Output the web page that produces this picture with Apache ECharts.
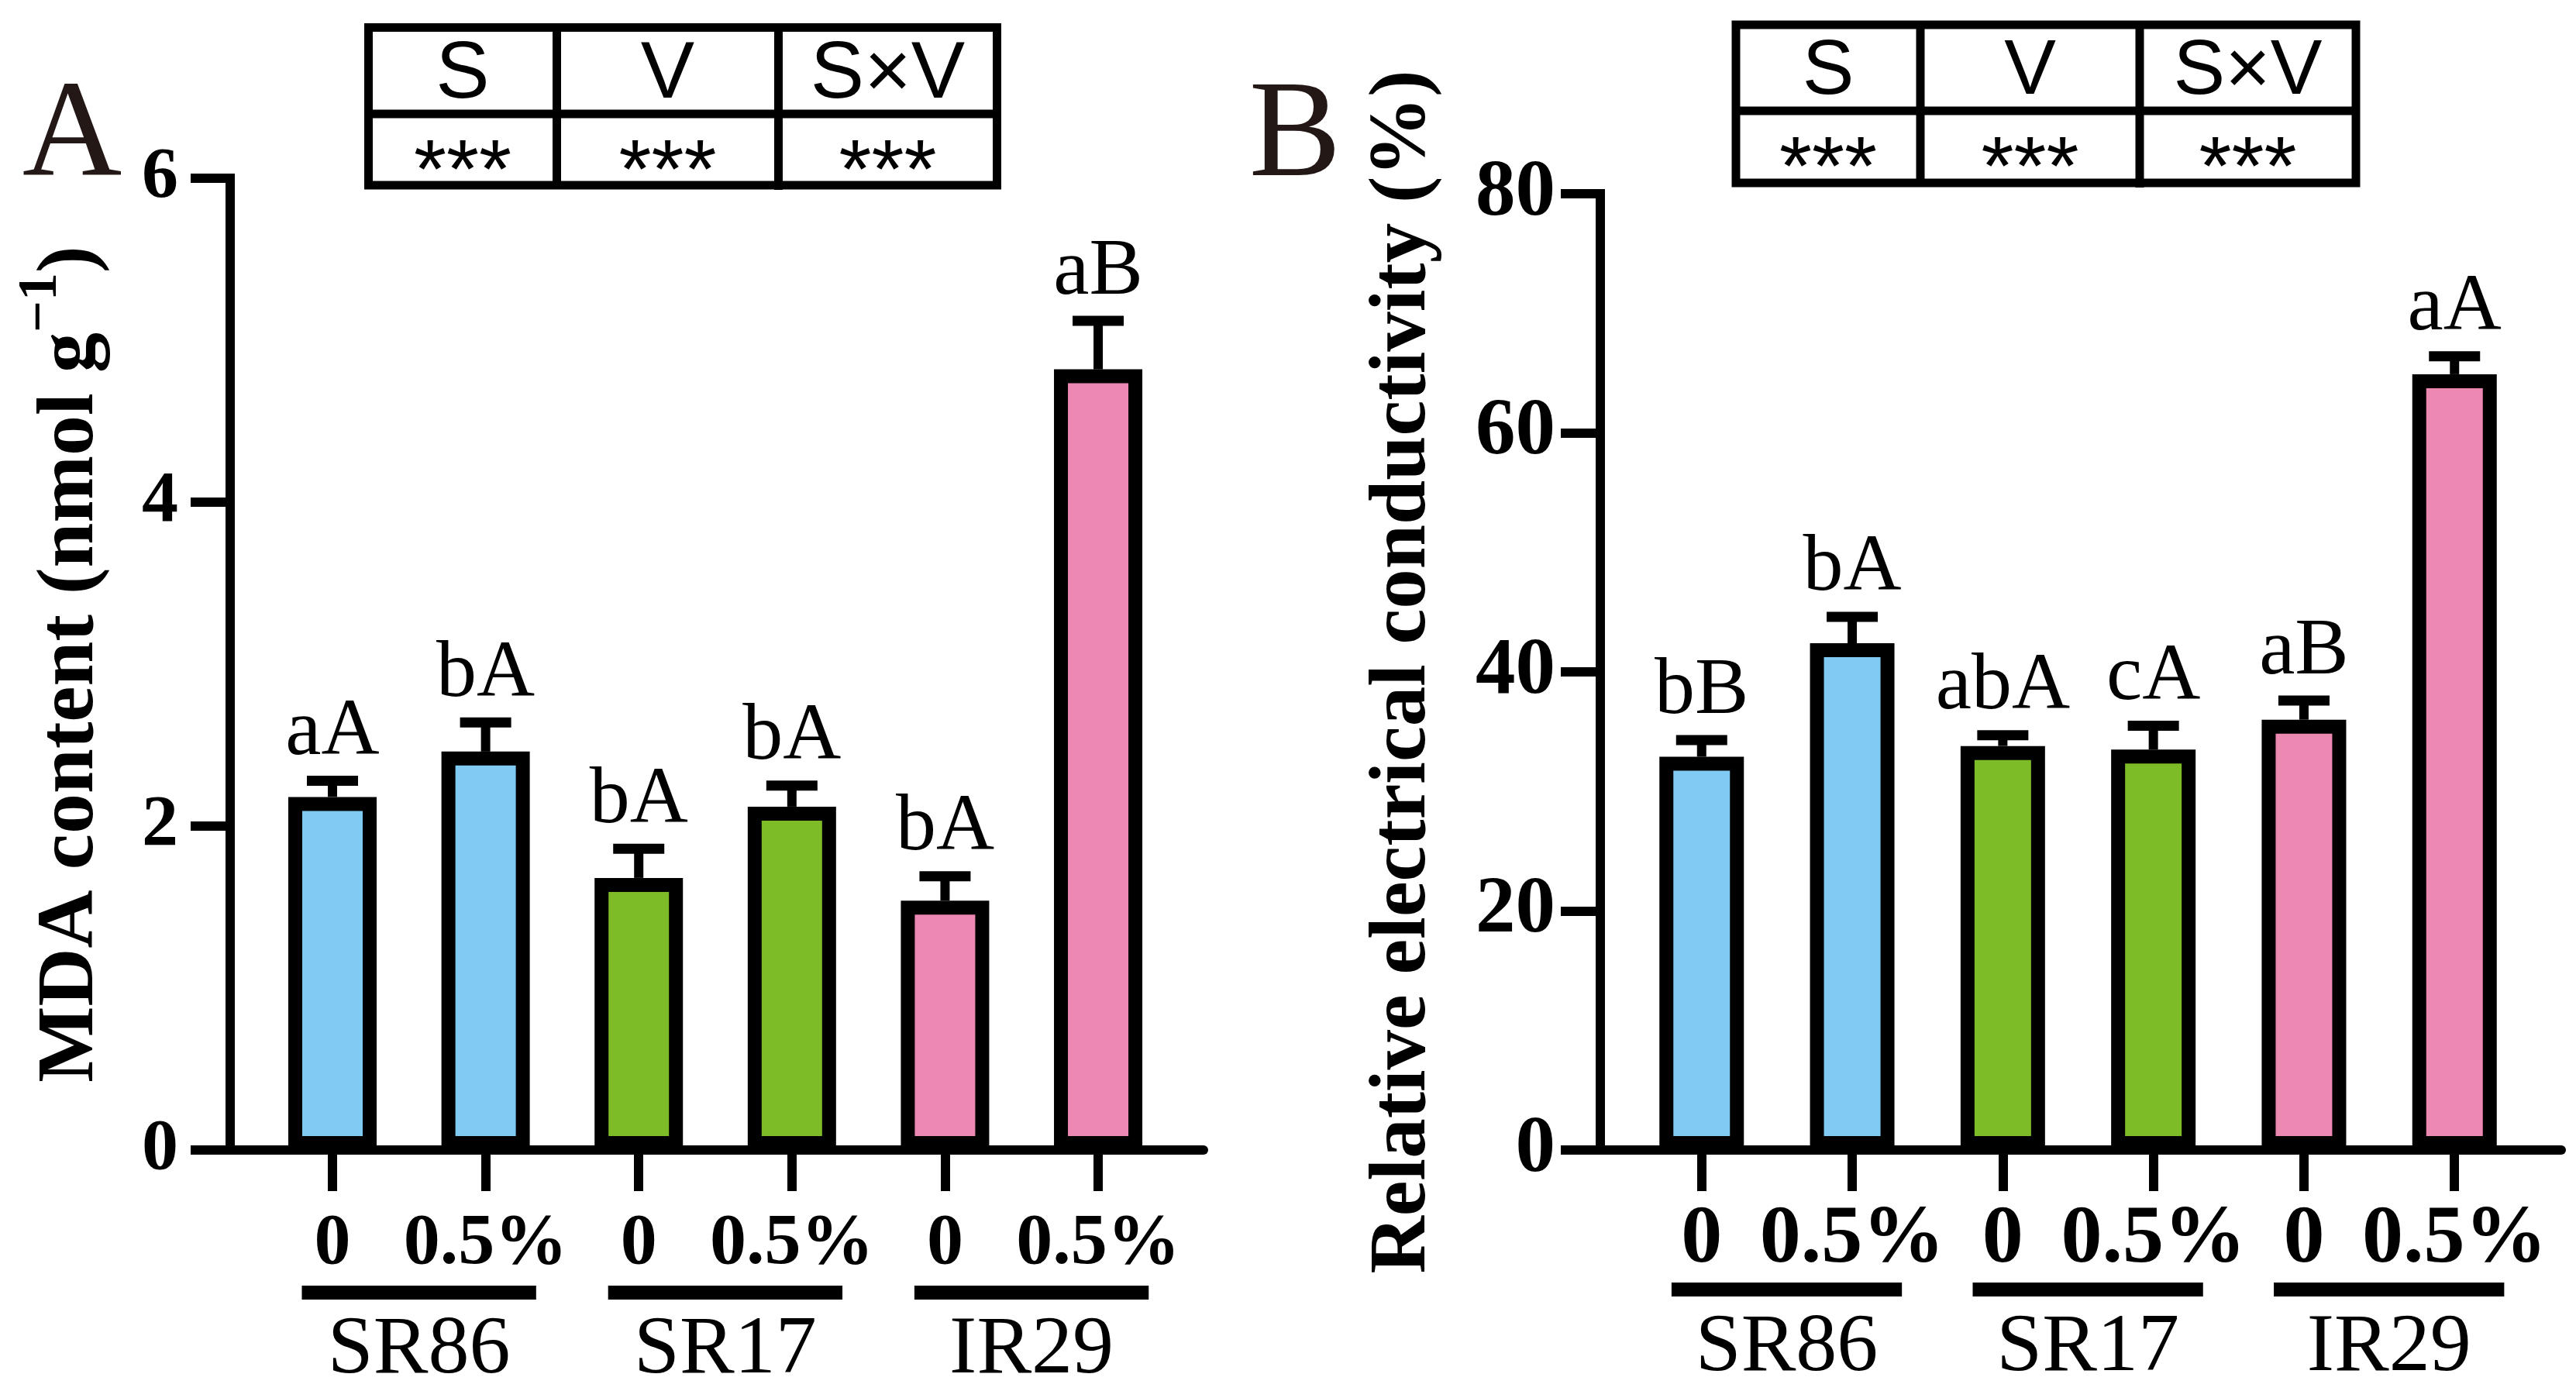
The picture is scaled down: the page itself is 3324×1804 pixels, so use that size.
<!DOCTYPE html>
<html><head><meta charset="utf-8">
<script src="https://cdn.jsdelivr.net/npm/echarts@6/dist/echarts.min.js"></script>
<style>html,body{margin:0;padding:0;background:#fff}#c{width:3324px;height:1804px}</style>
</head><body><div id="c"></div>
<script>
// ---- data ----
const doseLabels = ['0', '0.5%', '0', '0.5%', '0', '0.5%'];
const cultivars = ['SR86', 'SR17', 'IR29'];
const barColors = ['#7FCBF3', '#7FCBF3', '#7DBB27', '#7DBB27', '#ED88B3', '#ED88B3'];
const mdaValues = [2.18, 2.46, 1.68, 2.12, 1.54, 4.82];
const mdaErrors = [0.10, 0.18, 0.18, 0.13, 0.15, 0.30];
const mdaLetters = ['aA', 'bA', 'bA', 'bA', 'bA', 'aB'];
const recValues = [32.9, 42.4, 33.8, 33.5, 36.0, 64.9];
const recErrors = [1.4, 2.2, 0.9, 2.0, 1.6, 1.5];
const recLetters = ['bB', 'bA', 'abA', 'cA', 'aB', 'aA'];
const effectHeaders = ['S', 'V', 'S×V'];
const mdaEffects = ['***', '***', '***'];
const recEffects = ['***', '***', '***'];
const panelNames = ['A', 'B'];
const mdaTitle = ['MDA content (nmol g', '−1', ')'];
const recTitle = 'Relative electrical conductivity (%)';

// ---- helpers ----
const SERIF = 'Liberation Serif', SANS = 'Liberation Sans';
const idx = doseLabels.map((_, i) => i);
const groupData = cultivars.map((_, g) => [2 * g - 0.2, 2 * g + 1.33, g]);

function xAxisCfg(gi, min, max, labelSize, labelMargin) {
  return {
    type: 'value', gridIndex: gi, min: min, max: max,
    splitLine: { show: false },
    axisLine: { show: true, onZero: false, lineStyle: { color: '#000', width: 12 } },
    axisTick: { show: true, customValues: idx, length: 53, lineStyle: { color: '#000', width: 12 } },
    axisLabel: {
      customValues: idx, formatter: v => doseLabels[Math.round(v)],
      fontFamily: SERIF, fontWeight: 'bold', fontSize: labelSize, color: '#000',
      margin: labelMargin, verticalAlign: 'middle'
    }
  };
}
function yAxisCfg(gi, max, interval, labelSize, labelMargin, name, nameGap, nameStyle) {
  return {
    type: 'value', gridIndex: gi, min: 0, max: max, interval: interval,
    splitLine: { show: false },
    axisLine: { show: true, onZero: false, lineStyle: { color: '#000', width: 12, cap: 'square' } },
    axisTick: { show: true, length: 51, lineStyle: { color: '#000', width: 12 } },
    axisLabel: { fontFamily: SERIF, fontWeight: 'bold', fontSize: labelSize, color: '#000', margin: labelMargin },
    name: name, nameLocation: 'middle', nameGap: nameGap, nameTextStyle: nameStyle
  };
}
function barSeries(gi, values, barWidth) {
  return {
    type: 'bar', xAxisIndex: gi, yAxisIndex: gi, barWidth: barWidth,
    data: values.map((v, i) => ({ value: [i, v], itemStyle: { color: barColors[i] } })),
    itemStyle: { borderColor: '#000', borderWidth: 18 },
    animation: false
  };
}
function errSeries(gi, values, errors, letters, fontSize) {
  return {
    type: 'custom', xAxisIndex: gi, yAxisIndex: gi, clip: false,
    data: values.map((v, i) => [i, v, errors[i]]),
    renderItem: function (params, api) {
      const i = api.value(0), v = api.value(1), e = api.value(2);
      const b = api.coord([i, v]);
      const t = api.coord([i, v + e]);
      return {
        type: 'group', children: [
          { type: 'line', shape: { x1: b[0], y1: b[1], x2: t[0], y2: t[1] }, style: { stroke: '#000', lineWidth: 12 } },
          { type: 'line', shape: { x1: t[0] - 33, y1: t[1], x2: t[0] + 33, y2: t[1] }, style: { stroke: '#000', lineWidth: 13 } },
          { type: 'text', x: t[0], y: t[1] - 62, style: { text: letters[params.dataIndex], fontFamily: SERIF, fontSize: fontSize, fill: '#000', align: 'center', verticalAlign: 'middle' } }
        ]
      };
    },
    animation: false
  };
}
function groupSeries(gi, lineOff, textOff, fontSize) {
  return {
    type: 'custom', xAxisIndex: gi, yAxisIndex: gi, clip: false,
    data: groupData,
    renderItem: function (params, api) {
      const s = api.coord([api.value(0), 0]);
      const e = api.coord([api.value(1), 0]);
      return {
        type: 'group', children: [
          { type: 'rect', shape: { x: s[0], y: s[1] + lineOff, width: e[0] - s[0], height: 18 }, style: { fill: '#000' } },
          { type: 'text', x: (s[0] + e[0]) / 2, y: s[1] + textOff, style: { text: cultivars[api.value(2)], fontFamily: SERIF, fontSize: fontSize, fill: '#000', align: 'center', verticalAlign: 'middle' } }
        ]
      };
    },
    animation: false
  };
}
function table(x0, x1, c1, c2, yT, yM, yB, headers, vals, hSize, sSize) {
  const ls = { stroke: '#000', lineWidth: 11 };
  const els = [
    { type: 'rect', shape: { x: x0, y: yT, width: x1 - x0, height: yB - yT }, style: { fill: 'none', stroke: '#000', lineWidth: 11 } },
    { type: 'line', shape: { x1: x0, y1: yM, x2: x1, y2: yM }, style: ls },
    { type: 'line', shape: { x1: c1, y1: yT, x2: c1, y2: yB }, style: ls },
    { type: 'line', shape: { x1: c2, y1: yT, x2: c2, y2: yB + 6 }, style: ls }
  ];
  const cx = [(x0 + c1) / 2, (c1 + c2) / 2, (c2 + x1) / 2];
  headers.forEach((h, k) => els.push({ type: 'text', x: cx[k], y: (yT + yM) / 2 + 6, style: { text: h, fontFamily: SANS, fontSize: hSize, fill: '#000', align: 'center', verticalAlign: 'middle' } }));
  vals.forEach((h, k) => els.push({ type: 'text', x: cx[k], y: (yM + yB) / 2 + 32, style: { text: h, fontFamily: SANS, fontSize: sSize, fill: '#000', align: 'center', verticalAlign: 'middle' } }));
  return els;
}

const chart = echarts.init(document.getElementById('c'), null, { renderer: 'canvas' });
const titleStyleA = {
  fontFamily: SERIF, fontWeight: 'bold', fontSize: 104, color: '#000',
  rich: {
    a: { fontFamily: SERIF, fontWeight: 'bold', fontSize: 104, color: '#000', lineHeight: 150 },
    s: { fontFamily: SERIF, fontWeight: 'bold', fontSize: 72, color: '#000', verticalAlign: 'top' }
  }
};
const titleStyleB = { fontFamily: SERIF, fontWeight: 'bold', fontSize: 103, color: '#000' };

chart.setOption({
  animation: false,
  backgroundColor: '#fff',
  grid: [
    { left: 297, top: 230, width: 1256, bottom: 320 },
    { left: 2065, top: 250, width: 1240, bottom: 320 }
  ],
  xAxis: [
    xAxisCfg(0, -0.668, 5.688, 94, 122),
    xAxisCfg(1, -0.673, 5.709, 106, 117)
  ],
  yAxis: [
    yAxisCfg(0, 6, 2, 94, 67, '{a|' + mdaTitle[0] + '}{s|' + mdaTitle[1] + '}{a|' + mdaTitle[2] + '}', 130, titleStyleA),
    yAxisCfg(1, 80, 20, 103, 58, recTitle, 202, titleStyleB)
  ],
  series: [
    barSeries(0, mdaValues, 114),
    errSeries(0, mdaValues, mdaErrors, mdaLetters, 104),
    groupSeries(0, 175, 259, 106),
    barSeries(1, recValues, 109),
    errSeries(1, recValues, recErrors, recLetters, 104),
    groupSeries(1, 171, 256, 106)
  ],
  graphic: [
    { type: 'text', x: 93, y: 179, style: { text: panelNames[0], fontFamily: SERIF, fontSize: 178, fill: '#231815', align: 'center', verticalAlign: 'middle' } },
    { type: 'text', x: 1671, y: 179, style: { text: panelNames[1], fontFamily: SERIF, fontSize: 178, fill: '#231815', align: 'center', verticalAlign: 'middle' } }
  ].concat(
    table(475.5, 1286.5, 718.5, 1004.5, 35.5, 147, 239, effectHeaders, mdaEffects, 104, 108),
    table(2240, 3040, 2478, 2761, 32, 143, 236, effectHeaders, recEffects, 100, 108)
  )
});
</script>
</body></html>
